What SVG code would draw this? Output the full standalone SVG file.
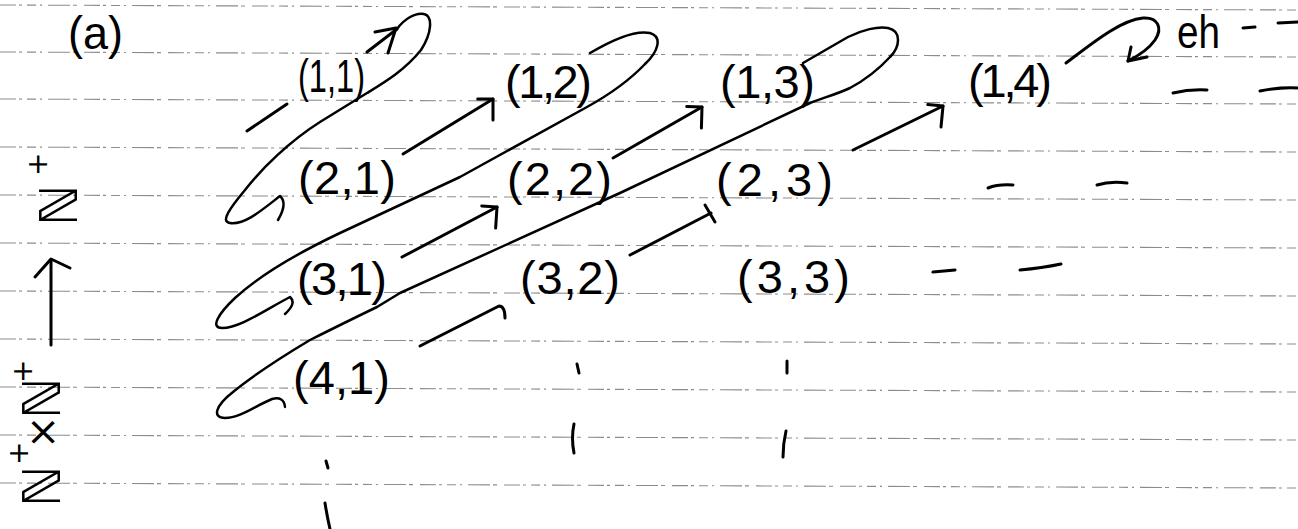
<svg xmlns="http://www.w3.org/2000/svg" width="1298" height="529" viewBox="0 0 1298 529">
<style>
.rule{stroke:#8c8c8c;stroke-width:1.1;fill:none;stroke-dasharray:16 3 3 5 9 4 2 6 22 3 4 7}
.ink{stroke:#000;stroke-width:3;fill:none;stroke-linecap:round;stroke-linejoin:round}
.thin{stroke:#000;stroke-width:2.5;fill:none;stroke-linecap:round;stroke-linejoin:round}
.lbl{font-family:"Liberation Sans",Arial,sans-serif;font-size:47px;fill:#000}
.sym{font-family:"DejaVu Sans",sans-serif;fill:#000}
</style>
<defs>
<marker id="ah" markerUnits="userSpaceOnUse" orient="auto" refX="0" refY="0" markerWidth="40" markerHeight="40" viewBox="-20 -20 40 40" overflow="visible">
<path d="M-13,-8 L0,0 L-11,18" fill="none" stroke="#000" stroke-width="3" stroke-linecap="round" stroke-linejoin="round"/>
</marker>
</defs>
<rect width="1298" height="529" fill="#fff"/>
<g id="paper">
<line class="rule" x1="0" y1="5" x2="1298" y2="10"/>
<line class="rule" x1="0" y1="52" x2="1298" y2="57"/>
<line class="rule" x1="0" y1="99" x2="1298" y2="104"/>
<line class="rule" x1="0" y1="147" x2="1298" y2="152"/>
<line class="rule" x1="0" y1="195" x2="1298" y2="200"/>
<line class="rule" x1="0" y1="243" x2="1298" y2="248"/>
<line class="rule" x1="0" y1="291" x2="1298" y2="296"/>
<line class="rule" x1="0" y1="339" x2="1298" y2="344"/>
<line class="rule" x1="0" y1="387" x2="1298" y2="392"/>
<line class="rule" x1="0" y1="435" x2="1298" y2="440"/>
<line class="rule" x1="0" y1="483" x2="1298" y2="488"/>
</g>
<g id="title"><text class="lbl" x="68" y="49" font-size="44" textLength="55" lengthAdjust="spacingAndGlyphs">(a)</text></g>
<g id="axis-top">
<g transform="translate(77,226) rotate(-90)">
<text class="sym" x="0" y="0" font-size="52">ℕ</text>
<text class="sym" x="50" y="-30" font-size="28">+</text>
</g>
</g>
<g id="axis-bottom">
<g transform="translate(60,507) rotate(-90)">
<text class="sym" x="0" y="0" font-size="52">ℕ</text>
<text class="sym" x="42" y="-32" font-size="28">+</text>
<text class="sym" x="58" y="-4" font-size="40">×</text>
<text class="sym" x="88" y="0" font-size="52">ℕ</text>
<text class="sym" x="124" y="-28" font-size="28">+</text>
</g>
</g>
<g id="n11"><text class="lbl" x="298" y="92" textLength="67" lengthAdjust="spacingAndGlyphs">(1,1)</text></g>
<g id="n12"><text class="lbl" x="505" y="98" textLength="87" lengthAdjust="spacing">(1,2)</text></g>
<g id="n13"><text class="lbl" x="720" y="98" textLength="95" lengthAdjust="spacing">(1,3)</text></g>
<g id="n14"><text class="lbl" x="968" y="97" textLength="84" lengthAdjust="spacing">(1,4)</text></g>
<g id="n21"><text class="lbl" x="298" y="194" textLength="98" lengthAdjust="spacing">(2,1)</text></g>
<g id="n22"><text class="lbl" x="507" y="195" textLength="105" lengthAdjust="spacing">(2,2)</text></g>
<g id="n23"><text class="lbl" x="716" y="196" textLength="117" lengthAdjust="spacing">(2,3)</text></g>
<g id="n31"><text class="lbl" x="297" y="295" textLength="90" lengthAdjust="spacing">(3,1)</text></g>
<g id="n32"><text class="lbl" x="520" y="294" textLength="100" lengthAdjust="spacing">(3,2)</text></g>
<g id="n33"><text class="lbl" x="737" y="293" textLength="113" lengthAdjust="spacing">(3,3)</text></g>
<g id="n41"><text class="lbl" x="293" y="394" textLength="97" lengthAdjust="spacing">(4,1)</text></g>
<g id="note"><text class="lbl" x="1177" y="48" font-size="46" textLength="43" lengthAdjust="spacingAndGlyphs">eh</text></g>
<g id="connectors">
<path class="ink" d="M51,345 L51,260"/>
<path class="ink" d="M35,277 L51,259 L70,268"/>
<path class="ink" d="M247,131 L287,104"/>
<path class="ink" d="M367,52 L397,29"/>
<path class="ink" d="M375,32 L396,28 L388,53"/>
<path class="thin" d="M397,29 C404,19 416,12 424,14 C433,16 432,33 421,50 C405,70 385,82 367,93 L320,122 C290,141 262,168 245,190 C230,208 220,222 230,223 C245,225 262,210 280,196 Q288,203 278,220"/>
<path class="thin" d="M590,53 C612,40 636,30 650,33 C663,37 658,52 645,64 C628,82 605,97 587,107 L460,177 L340,233 C300,252 260,275 235,298 C218,314 210,328 222,328 C240,328 265,310 290,297 Q297,303 285,314"/>
<path class="thin" d="M803,63 L848,37 C862,30 878,26 888,28 C902,31 900,47 890,57 C878,70 865,80 850,88 C835,95 822,98 810,103 L620,193 L400,293 L377,307 C350,320 330,330 310,340 C280,358 250,378 233,392 C215,406 212,418 225,418 C240,418 255,406 272,399 Q284,396 285,407"/>
<path class="ink" d="M1066,63 C1090,45 1120,20 1143,18 C1158,17 1163,28 1155,40 C1148,50 1138,56 1128,61"/>
<path class="ink" d="M1131,47 L1128,61 L1147,57"/>
<path class="ink" d="M403,154 L493,99" marker-end="url(#ah)"/>
<path class="ink" d="M613,158 L702,107" marker-end="url(#ah)"/>
<path class="ink" d="M853,150 L943,106" marker-end="url(#ah)"/>
<path class="ink" d="M402,257 L497,207" marker-end="url(#ah)"/>
<path class="ink" d="M630,255 L711,213"/>
<path class="ink" d="M705,205 L715,222"/>
<path class="ink" d="M420,346 L499,306 Q505,306 505,318"/>
</g>
<g id="dashes">
<path class="ink" d="M1243,28 L1255,27"/>
<path class="ink" d="M1278,23 L1298,22"/>
<path class="ink" d="M1173,93 Q1190,89 1207,90"/>
<path class="ink" d="M1260,91 Q1280,87 1298,88"/>
<path class="ink" d="M988,188 Q998,184 1013,185"/>
<path class="ink" d="M1097,185 Q1110,181 1127,183"/>
<path class="ink" d="M933,272 L955,270"/>
<path class="ink" d="M1020,270 Q1042,268 1061,264"/>
</g>
<g id="ellipsis">
<path class="ink" d="M577,364 L579,373"/>
<path class="ink" d="M574,424 Q571,438 574,453"/>
<path class="ink" d="M787,361 L787,373"/>
<path class="ink" d="M786,431 Q783,444 783,457"/>
<path class="ink" d="M326,461 L328,468"/>
<path class="ink" d="M325,503 Q327,516 330,529"/>
</g>
</svg>
